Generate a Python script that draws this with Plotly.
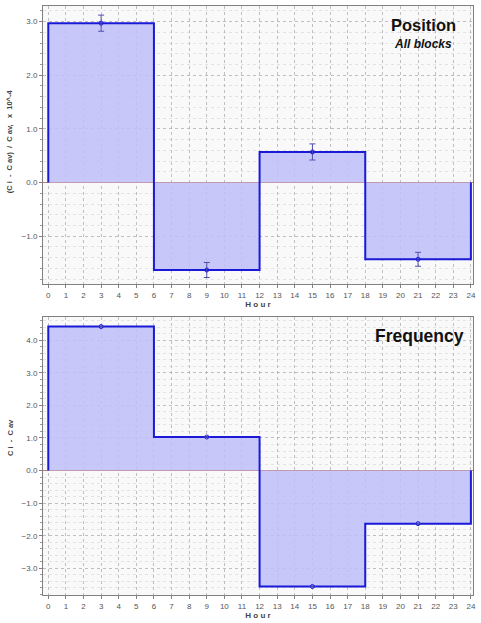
import plotly.graph_objects as go
from plotly.subplots import make_subplots

# Data
hour_edges = [0, 6, 12, 18, 24]
hour_mid = [3, 9, 15, 21]
position_vals = [2.97, -1.63, 0.57, -1.43]
position_err = [0.15, 0.14, 0.15, 0.13]
frequency_vals = [4.42, 1.03, -3.56, -1.63]
frequency_err = [0.0, 0.0, 0.0, 0.0]
hour_ticks = list(range(0, 25))

LINE = "rgb(25,25,215)"
FILL = "rgba(190,190,250,0.85)"
GRID = "rgba(160,160,160,0.65)"
MINOR = "rgba(210,210,210,0.55)"

fig = make_subplots(rows=2, cols=1, vertical_spacing=0.0553)


def step_xy(edges, vals):
    xs = [edges[0], edges[0]] + edges[1:-1] + [edges[-1], edges[-1]]
    ys = [0, vals[0]] + vals[1:] + [vals[-1], 0]
    return xs, ys


for row, vals, errs in [(1, position_vals, position_err), (2, frequency_vals, frequency_err)]:
    xs, ys = step_xy(hour_edges, vals)
    fig.add_trace(go.Scatter(x=xs, y=ys, mode="lines", line=dict(shape="hv", color=LINE, width=2),
                             fill="tozeroy", fillcolor=FILL, showlegend=False, hoverinfo="skip"),
                  row=row, col=1)
    fig.add_trace(go.Scatter(x=hour_mid, y=vals, mode="markers",
                             marker=dict(symbol="circle-open", size=4, color=LINE, line=dict(width=1)),
                             error_y=dict(type="data", array=errs, visible=True, color="rgb(80,80,170)",
                                          thickness=1, width=3),
                             showlegend=False), row=row, col=1)

xaxis_common = dict(range=[-0.3, 24.12], tickmode="array", tickvals=hour_ticks,
                    ticks="outside", ticklen=3, tickcolor="#808080",
                    showline=True, linecolor="#808080", linewidth=1, mirror=True,
                    showgrid=True, gridcolor=GRID, griddash="dot", gridwidth=1,
                    zeroline=False, tickfont=dict(size=8, color="#555", family="Arial"),
                    title=dict(text="<b>H o u r</b>", font=dict(size=8, color="#444", family="Arial"), standoff=2))
fig.update_xaxes(**xaxis_common, row=1, col=1)
fig.update_xaxes(**xaxis_common, row=2, col=1)

yaxis_common = dict(dtick=1, tickformat=".1f", ticks="outside", ticklen=3, tickcolor="#808080",
                    showline=True, linecolor="#808080", linewidth=1, mirror=True,
                    showgrid=True, gridcolor=GRID, griddash="dot", gridwidth=1,
                    zeroline=True, zerolinecolor="rgb(190,130,120)", zerolinewidth=1,
                    tickfont=dict(size=8, color="#555", family="Arial"),
                    minor=dict(dtick=0.2, showgrid=True, gridcolor=MINOR, griddash="dot",
                               ticks="outside", ticklen=2, tickcolor="#999"))
fig.update_yaxes(**yaxis_common, range=[-1.895, 3.29], row=1, col=1)
fig.update_yaxes(**yaxis_common, range=[-3.82, 4.72], row=2, col=1)

annotations = [
    dict(text="<b>Position</b>", x=0.884, y=0.987, xref="paper", yref="paper", xanchor="center",
         yanchor="top", showarrow=False, font=dict(size=16.5, family="Arial", color="#111")),
    dict(text="<b><i>All blocks</i></b>", x=0.884, y=0.95, xref="paper", yref="paper", xanchor="center",
         yanchor="top", showarrow=False, font=dict(size=12, family="Arial", color="#111")),
    dict(text="<b>Frequency</b>", x=0.875, y=0.46, xref="paper", yref="paper", xanchor="center",
         yanchor="top", showarrow=False, font=dict(size=17.5, family="Arial", color="#111")),
    dict(text="<b>(C i  -  C av)  /  C av,   x  10^-4</b>", x=-0.077, y=0.77, xref="paper", yref="paper",
         textangle=-90, showarrow=False, xanchor="center", yanchor="middle",
         font=dict(size=7.5, family="Arial", color="#444")),
    dict(text="<b>C i  -  C av</b>", x=-0.077, y=0.268, xref="paper", yref="paper",
         textangle=-90, showarrow=False, xanchor="center", yanchor="middle",
         font=dict(size=7.5, family="Arial", color="#444")),
]

fig.update_layout(width=481, height=623, margin=dict(l=43, r=7, t=5, b=22),
                  paper_bgcolor="white", plot_bgcolor="#f9f9f9",
                  annotations=annotations, showlegend=False)

fig.write_html("out.html", config={"displayModeBar": False},
               post_script="document.body.style.margin='0';document.body.style.overflow='hidden';")
